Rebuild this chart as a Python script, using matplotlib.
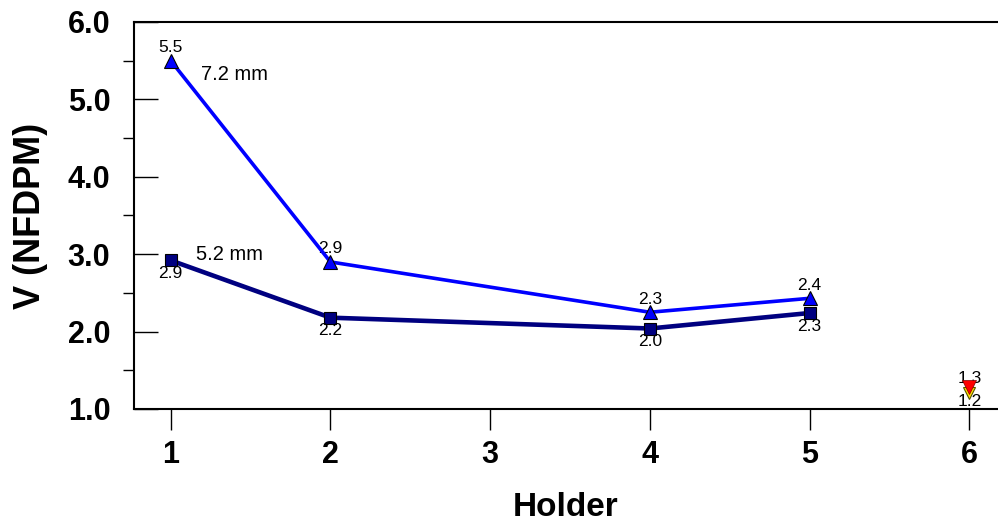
import matplotlib
matplotlib.use("Agg")
import matplotlib.pyplot as plt

plt.rcParams['font.family'] = ['Liberation Sans', 'DejaVu Sans']

# Data
holder_ticks = [1, 2, 3, 4, 5, 6]
series_72_x = [1, 2, 4, 5]
series_72_y = [5.50, 2.90, 2.25, 2.43]
series_72_labels = ["5.5", "2.9", "2.3", "2.4"]
series_52_x = [1, 2, 4, 5]
series_52_y = [2.92, 2.18, 2.04, 2.24]
series_52_labels = ["2.9", "2.2", "2.0", "2.3"]
single_x = [6]
single_red_y = [1.28]
single_red_labels = ["1.3"]
single_yellow_y = [1.21]
single_yellow_labels = ["1.2"]

fig = plt.figure(figsize=(9.98, 5.24), dpi=100)
ax = fig.add_axes([134/998, (524-409)/524, (998-134)/998, (409-22)/524])

ax.plot(series_52_x, series_52_y, color='#000080', lw=3.3, marker='s', ms=9,
        mfc='#000080', mec='black', mew=0.8, zorder=3)
ax.plot(series_72_x, series_72_y, color='#0000FF', lw=2.6, marker='^', ms=9.5,
        mfc='#0000FF', mec='black', mew=0.8, zorder=4)
ax.plot(single_x, single_yellow_y, ls='none', marker='v', ms=9, mfc='#FFE000',
        mec='#555500', mew=0.8, zorder=5)
ax.plot(single_x, single_red_y, ls='none', marker='v', ms=10, mfc='#FF0000',
        mec='#800000', mew=0.5, zorder=6)

for x, y, t in zip(series_72_x, series_72_y, series_72_labels):
    ax.annotate(t, (x, y), xytext=(0, 4), textcoords='offset points',
                ha='center', va='bottom', fontsize=12.5)
for x, y, t in zip(series_52_x, series_52_y, series_52_labels):
    ax.annotate(t, (x, y), xytext=(0, -4), textcoords='offset points',
                ha='center', va='top', fontsize=12.5)
for x, y, t in zip(single_x, single_red_y, single_red_labels):
    ax.annotate(t, (x, y), xytext=(0, 1), textcoords='offset points',
                ha='center', va='bottom', fontsize=12.5)
for x, y, t in zip(single_x, single_yellow_y, single_yellow_labels):
    ax.annotate(t, (x, y), xytext=(0, -1), textcoords='offset points',
                ha='center', va='top', fontsize=12.5)

ax.text(1.19, 5.32, "7.2 mm", fontsize=14.5, va='center', ha='left')
ax.text(1.16, 2.99, "5.2 mm", fontsize=14.5, va='center', ha='left')

ax.set_xlim(0.77, 6.18)
ax.set_ylim(1.0, 6.0)
ax.set_xticks(holder_ticks)
ax.set_xticklabels([str(v) for v in holder_ticks], fontsize=22, fontweight='bold')
ax.set_yticks([1, 2, 3, 4, 5, 6])
ax.set_yticklabels(["1.0", "2.0", "3.0", "4.0", "5.0", "6.0"], fontsize=22, fontweight='bold')
ax.set_yticks([1.5, 2.5, 3.5, 4.5, 5.5], minor=True)
ax.tick_params(axis='y', which='major', direction='in', length=17, width=1, pad=17)
ax.tick_params(axis='y', which='minor', direction='out', length=8, width=1)
ax.tick_params(axis='x', which='major', direction='out', length=15, width=1, pad=7)

ax.spines['right'].set_visible(False)
for s in ['left', 'top', 'bottom']:
    ax.spines[s].set_linewidth(1.5)

ax.set_xlabel("Holder", fontsize=24, fontweight='bold', labelpad=16)
ax.set_ylabel("V (NFDPM)", fontsize=26, fontweight='bold', labelpad=14)

fig.savefig("out.png", dpi=100)
